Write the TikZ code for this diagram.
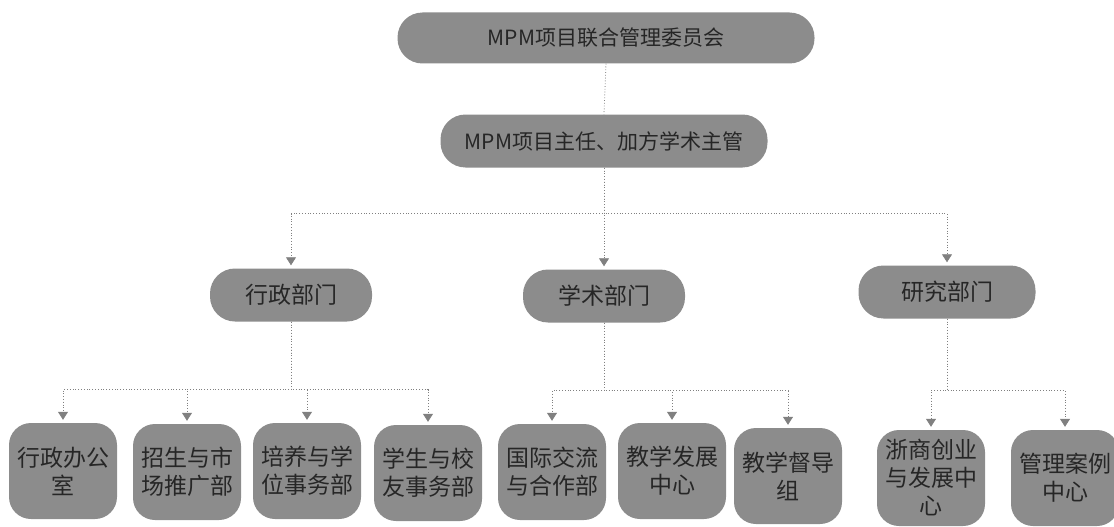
\documentclass[tikz,border=0pt]{standalone}
\usepackage{fontspec}
\setmainfont{Noto Sans CJK SC}
\usetikzlibrary{arrows.meta,positioning}

\tikzset{
  box/.style={fill=black!45, text=black!85, align=center, inner sep=1pt},
  pill/.style={box, rounded corners=25pt, minimum height=51pt, font=\fontsize{21}{25}\selectfont},
  dept/.style={box, rounded corners=25pt, minimum width=162pt, minimum height=53pt, font=\fontsize{23}{27}\selectfont},
  unit/.style={box, rounded corners=22pt, minimum width=108pt, minimum height=96pt, font=\fontsize{23}{28}\selectfont},
  link/.style={draw=black!50, dotted, line width=0.8pt},
  tip/.style={link, -{Triangle[width=10pt,length=8pt]}, shorten >=3pt}
}

\begin{document}
\begin{tikzpicture}[x=1pt,y=1pt]
\useasboundingbox (0,0) rectangle (1114,-527);

% top levels
\node[pill, minimum width=417pt] (cmte) at (606,-38) {MPM项目联合管理委员会};
\node[pill, minimum width=327pt, minimum height=53pt] (head) at (604,-141) {MPM项目主任、加方学术主管};

% departments
\node[dept] (admin) at (291,-295) {行政部门};
\node[dept] (acad) at (604,-296) {学术部门};
\node[dept, minimum width=177pt] (rsch) at (947,-292) {研究部门};

% units
\foreach \n/\x/\y/\t in {u1/63/471/{行政办公\\室}, u2/187/472/{招生与市\\场推广部},
    u3/307/471/{培养与学\\位事务部}, u4/428/473/{学生与校\\友事务部},
    u5/552/472/{国际交流\\与合作部}, u6/672/471/{教学发展\\中心},
    u7/788/476/{教学督导\\组}, u8/931/478/{浙商创业\\与发展中\\心},
    u9/1065/478/{管理案例\\中心}}
  \node[unit] (\n) at (\x,-\y) {\t};

\draw[link] (cmte.south) -- (head.north);
\foreach \d in {admin,acad,rsch}
  \draw[tip] (head.south) -- ++(0,-46) -| (\d.north);

\foreach \c in {u1,u2,u3,u4}
  \draw[tip] (admin.south) -- ++(0,-68) -| (\c.north);
\foreach \c in {u5,u6,u7}
  \draw[tip] (acad.south) -- ++(0,-68) -| (\c.north);
\foreach \c in {u8,u9}
  \draw[tip] (rsch.south) -- ++(0,-72) -| (\c.north);
\end{tikzpicture}
\end{document}
